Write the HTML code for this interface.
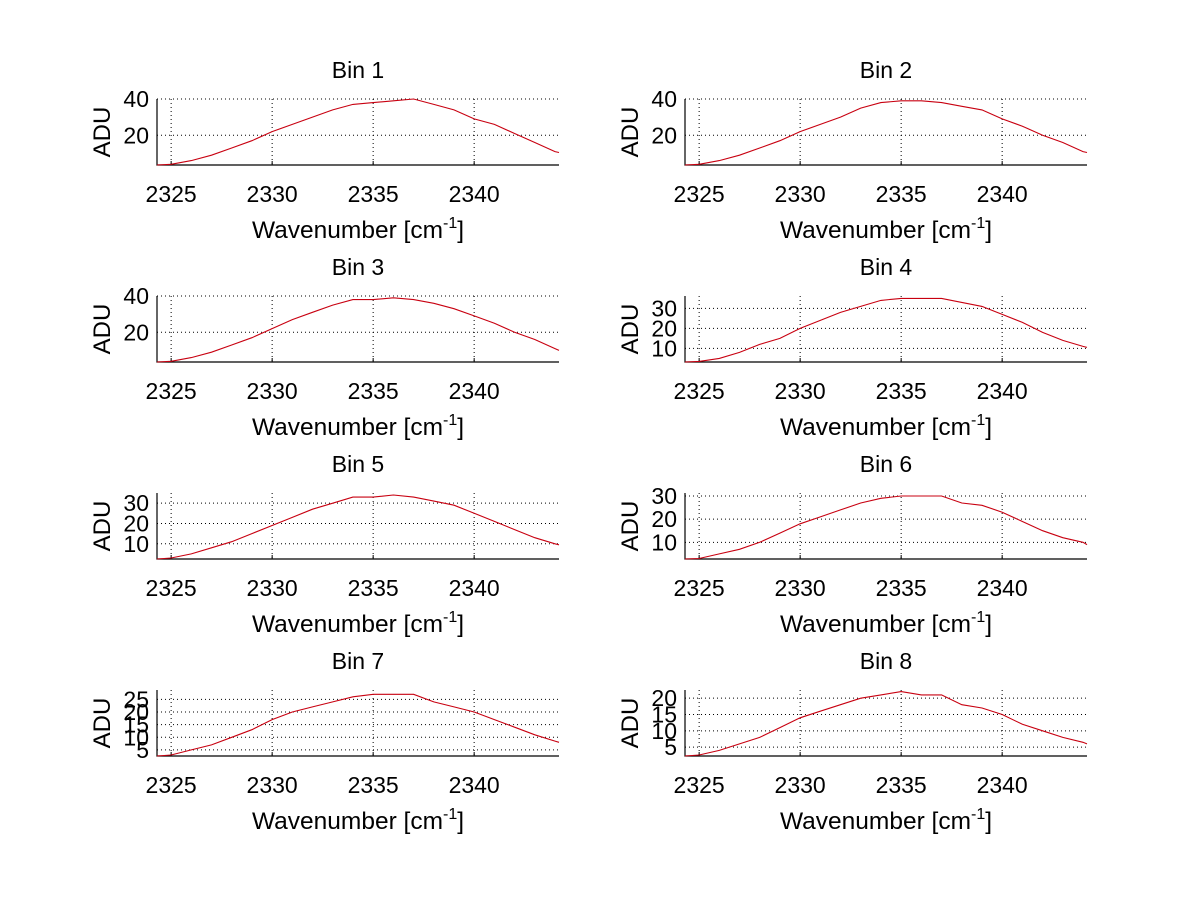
<!DOCTYPE html>
<html><head><meta charset="utf-8"><style>
html,body{margin:0;padding:0;background:#fff;}
svg{display:block;font-family:"Liberation Sans",sans-serif;}
</style></head><body>
<svg id="fig" width="1200" height="901" viewBox="0 0 1200 901" xmlns="http://www.w3.org/2000/svg">
<rect width="1200" height="901" fill="#fff"/>
</svg>
<script>
const wavenumbers=[2324.3,2325,2326,2327,2328,2329,2330,2331,2332,2333,2334,2335,2336,2337,2338,2339,2340,2341,2342,2343,2344,2344.2];
const bin1=[3.6,4,6,9,13,17,22,26,30,34,37,38,39,40,37,34,29,26,21,16,11,10.5];
const bin2=[3.6,4,6,9,13,17,22,26,30,35,38,39,39,38,36,34,29,25,20,16,11,10.5];
const bin3=[3.6,4,6,9,13,17,22,27,31,35,38,38,39,38,36,33,29,25,20,16,11,10];
const bin4=[3.2,3.5,5,8,12,15,20,24,28,31,34,35,35,35,33,31,27,23,18,14,11,10.5];
const bin5=[2.5,3,5,8,11,15,19,23,27,30,33,33,34,33,31,29,25,21,17,13,10,9.5];
const bin6=[2.8,3,5,7,10,14,18,21,24,27,29,30,30,30,27,26,23,19,15,12,10,9];
const bin7=[2.6,3,5,7,10,13,17,20,22,24,26,27,27,27,24,22,20,17,14,11,8.5,8];
const bin8=[2.3,2.6,4,6,8,11,14,16,18,20,21,22,21,21,18,17,15,12,10,8,6.5,6];
const xTicks=[2325,2330,2335,2340];
const yTicks1=[20,40],yTicks2=[20,40],yTicks3=[20,40],yTicks4=[10,20,30];
const yTicks5=[10,20,30],yTicks6=[10,20,30],yTicks7=[5,10,15,20,25],yTicks8=[5,10,15,20];
const yRanges=[[3.6,40],[3.6,40],[3.6,40],[3.2,36.2],[2.5,35],[2.8,31.3],[2.6,28.7],[2.3,22.5]];
const bins=[bin1,bin2,bin3,bin4,bin5,bin6,bin7,bin8];
const yTicksAll=[yTicks1,yTicks2,yTicks3,yTicks4,yTicks5,yTicks6,yTicks7,yTicks8];
const NS="http://www.w3.org/2000/svg";
const svg=document.getElementById('fig');
function mk(tag,attrs,parent){const e=document.createElementNS(NS,tag);for(const k in attrs)e.setAttribute(k,attrs[k]);parent.appendChild(e);return e;}
const xMin=2324.3,xMax=2344.2;
for(let i=0;i<8;i++){
  const col=i%2,row=Math.floor(i/2);
  const L=157+col*528,R=559+col*528,T=99+row*197,B=165+row*197;
  const g=mk('g',{},svg);
  
  
  const [y0,y1]=yRanges[i];
  const sx=v=>L+(v-xMin)/(xMax-xMin)*(R-L);
  const sy=v=>B-(v-y0)/(y1-y0)*(B-T);
  xTicks.forEach(t=>{
    const l=mk('line',{x1:sx(t),x2:sx(t),y1:T,y2:B,stroke:'#000','stroke-width':1,'stroke-dasharray':'1,3'},g);
    
    
    mk('line',{x1:sx(t),x2:sx(t),y1:B,y2:B-4,stroke:'#000'},g);
    const tx=mk('text',{x:sx(t),y:B+37,'font-size':23,'text-anchor':'middle',fill:'#000'},g);
    tx.textContent=t;
    
    
  });
  yTicksAll[i].forEach(t=>{
    const l=mk('line',{x1:L,x2:R,y1:sy(t),y2:sy(t),stroke:'#000','stroke-width':1,'stroke-dasharray':'1,3'},g);
    
    
    const tx=mk('text',{x:L-8,y:sy(t)+8,'font-size':23,'text-anchor':'end',fill:'#000'},g);
    tx.textContent=t;
    
    
  });
  const ax=mk('path',{d:`M${L},${T}V${B}H${R}`,fill:'none',stroke:'#000','stroke-width':1.2},g);
  
  
  const d=bins[i].map((v,j)=>(j?'L':'M')+sx(wavenumbers[j]).toFixed(1)+','+sy(v).toFixed(1)).join('');
  const p=mk('path',{d:d,fill:'none',stroke:'#c80010','stroke-width':1.1},g);
  
  
  const title=mk('text',{x:(L+R)/2,y:T-21,'font-size':23,'text-anchor':'middle',fill:'#000'},g);
  title.textContent='Bin '+(i+1);
  
  
  const xl=mk('text',{x:(L+R)/2,y:B+73,'font-size':24.5,'text-anchor':'middle',fill:'#000'},g);
  xl.innerHTML='Wavenumber [cm<tspan dy="-10" font-size="16">-1</tspan><tspan dy="10">]</tspan>';
  
  
  const yl=mk('text',{x:0,y:0,'font-size':24,'text-anchor':'middle',fill:'#000',transform:`translate(${L-47},${(T+B)/2}) rotate(-90)`},g);
  yl.textContent='ADU';
  
  
}
</script>
</body></html>
